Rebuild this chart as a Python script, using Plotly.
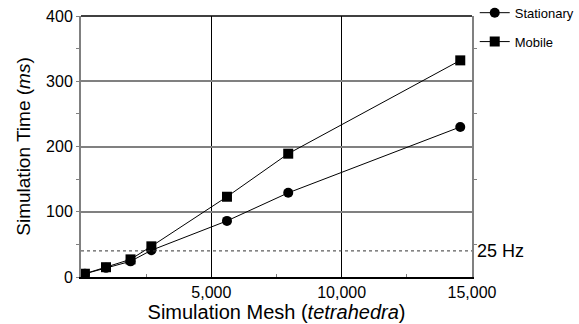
import plotly.graph_objects as go

mesh = [150, 960, 1900, 2700, 5600, 7950, 14550]
stationary = [5, 14, 24, 41, 86, 129, 230]
mobile = [5, 15, 27, 47, 123, 189, 332]
x_ticks = [5000, 10000, 15000]
x_tick_labels = ["5,000", "10,000", "15,000"]
y_ticks = [0, 100, 200, 300, 400]
hz_ms = 40  # 25 Hz = 40 ms

FONT = "Arial, Liberation Sans, sans-serif"

fig = go.Figure()
fig.add_trace(go.Scatter(x=mesh, y=stationary, mode="lines+markers", name="Stationary",
                         line=dict(color="black", width=1),
                         marker=dict(symbol="circle", size=10, color="black"),
                         legendgroup="a"))
fig.add_trace(go.Scatter(x=mesh, y=mobile, mode="lines+markers", name="Mobile",
                         line=dict(color="black", width=1),
                         marker=dict(symbol="square", size=10, color="black"),
                         legendgroup="b"))
# invisible trace for right-side ticks
fig.add_trace(go.Scatter(x=[None], y=[None], yaxis="y2", showlegend=False))

fig.update_layout(
    width=579, height=324,
    margin=dict(l=81, r=107, t=16, b=47, autoexpand=False),
    paper_bgcolor="white", plot_bgcolor="white",
    font=dict(family=FONT, color="black"),
    showlegend=True,
    legend=dict(x=1.007, y=1.07, xanchor="left", yanchor="top",
                font=dict(size=13), tracegroupgap=9, itemwidth=30,
                bgcolor="rgba(0,0,0,0)"),
    xaxis=dict(range=[0, 15000], tickvals=x_ticks, ticktext=x_tick_labels,
               showgrid=True, gridcolor="black", gridwidth=1,
               showline=True, linecolor="black", linewidth=1.5,
               ticks="", tickfont=dict(size=16),
               minor=dict(tickvals=[2500, 7500, 12500], ticks="inside", ticklen=3,
                          tickcolor="#808080", showgrid=False),
               title=dict(text="Simulation Mesh (<i>tetrahedra</i>)", font=dict(size=20), standoff=1),
               zeroline=False, fixedrange=True),
    yaxis=dict(range=[0, 400], tickvals=y_ticks,
               showgrid=True, gridcolor="#808080", gridwidth=1.5,
               showline=True, linecolor="#808080", linewidth=2,
               ticks="outside", ticklen=3, tickcolor="#808080",
               tickfont=dict(size=16),
               minor=dict(tickvals=[50, 150, 250, 350], ticks="outside", ticklen=3,
                          tickcolor="#808080", showgrid=False),
               title=dict(text="Simulation Time (<i>ms</i>)", font=dict(size=19), standoff=10),
               zeroline=False, fixedrange=True),
    yaxis2=dict(range=[0, 400], overlaying="y", side="right",
                showgrid=False, showticklabels=False,
                showline=True, linecolor="#808080", linewidth=2,
                tickvals=[50, 150, 250, 350], ticks="outside", ticklen=3,
                tickcolor="#808080", zeroline=False, fixedrange=True),
)

# top border (black)
fig.add_shape(type="line", xref="paper", yref="paper", x0=0, x1=1, y0=1, y1=1,
              line=dict(color="black", width=1.5))
# 25 Hz dotted line
fig.add_shape(type="line", xref="paper", yref="y", x0=0, x1=1, y0=hz_ms, y1=hz_ms,
              line=dict(color="#333333", width=1, dash="dot"))
fig.add_annotation(x=1, xref="paper", y=hz_ms, yref="y", text="25 Hz", showarrow=False,
                   xanchor="left", xshift=3, font=dict(size=18))

fig.write_html("out.html")
